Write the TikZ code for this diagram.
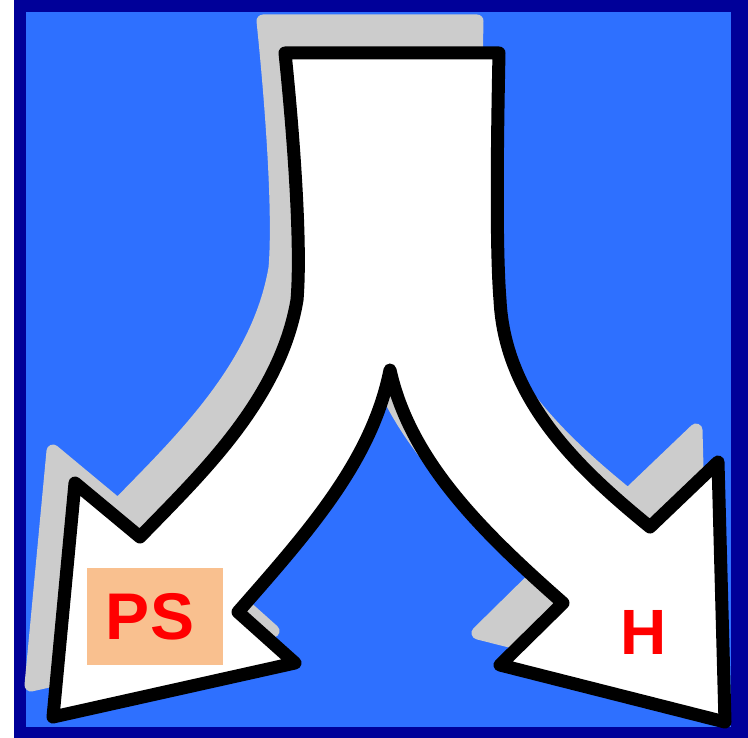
\documentclass[tikz,border=0pt]{standalone}
\usepackage{fontspec}
\setmainfont{Liberation Sans}
\definecolor{framedark}{HTML}{000099}
\definecolor{skyblue}{HTML}{2E70FF}
\definecolor{shadowgrey}{HTML}{CCCCCC}
\definecolor{peach}{HTML}{F9C08F}
\definecolor{labelred}{HTML}{FF0000}
\tikzset{
  arrowshape/.style={line width=13pt, line join=round},
  labeltext/.style={inner sep=0pt, text=labelred, font=\bfseries},
}
\newcommand{\splitpath}{
  (285,53) -- (499,53)
  .. controls (497,150) and (496,250) .. (500,300)
  .. controls (505,400) and (580,470) .. (650,527)
  -- (718,462) -- (725,722) -- (500,665) -- (563,603)
  .. controls (480,530) and (410,460) .. (390,370)
  .. controls (372,460) and (310,530) .. (238,612)
  -- (295,663) -- (53,717) -- (75,483) -- (140,537)
  .. controls (200,475) and (280,400) .. (297,300)
  .. controls (302,240) and (292,120) .. cycle
}
\begin{document}
\begin{tikzpicture}[x=1pt,y=-1pt]
\useasboundingbox (0,0) rectangle (748,738);
\fill[framedark] (14,0) rectangle (748,738);
\fill[skyblue] (26,12) rectangle (731,727);
\begin{scope}[shift={(-22,-32)}]
\filldraw[arrowshape, fill=shadowgrey, draw=shadowgrey] \splitpath;
\end{scope}
\filldraw[arrowshape, fill=white, draw=black] \splitpath;
\fill[peach] (87,568) rectangle (223,665);
\node[labeltext, font=\bfseries\fontsize{66}{66}\selectfont] (ps) at (150,617) {PS};
\node[labeltext, font=\bfseries\fontsize{64}{64}\selectfont] (h) at (644,632) {H};
\end{tikzpicture}
\end{document}
